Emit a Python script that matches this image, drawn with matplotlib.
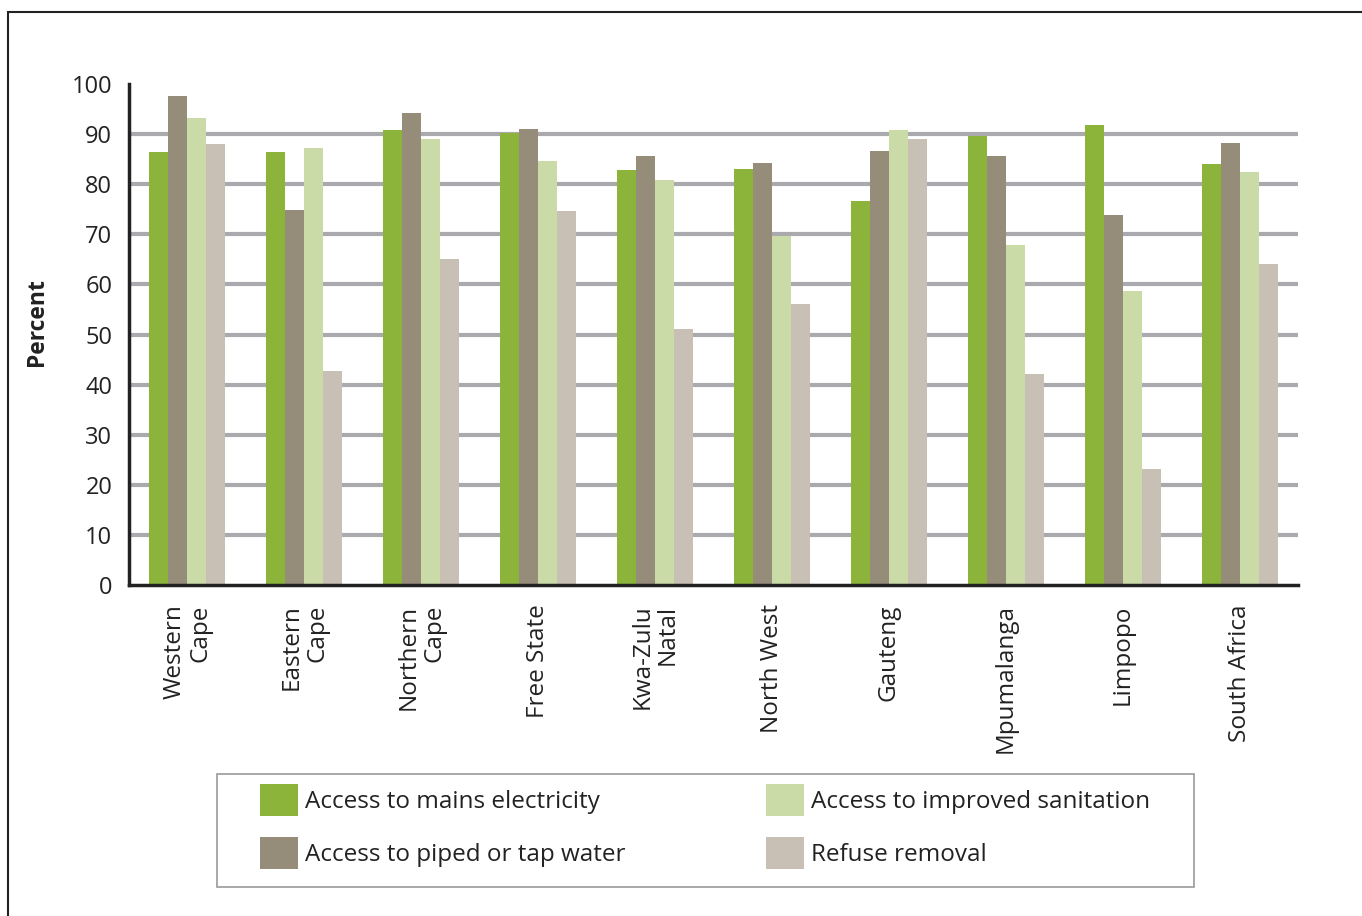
import matplotlib.pyplot as plt
import numpy as np
from matplotlib.patches import Rectangle

plt.rcParams['font.family'] = ['Open Sans', 'DejaVu Sans']

provinces = ['Western\nCape', 'Eastern\nCape', 'Northern\nCape', 'Free State', 'Kwa-Zulu\nNatal',
             'North West', 'Gauteng', 'Mpumalanga', 'Limpopo', 'South Africa']
electricity = [86.5, 86.5, 90.9, 90.3, 82.9, 83.1, 76.7, 89.7, 91.8, 84.1]
water = [97.6, 74.8, 94.2, 91.1, 85.7, 84.3, 86.7, 85.7, 73.8, 88.3]
sanitation = [93.2, 87.3, 89.1, 84.7, 80.9, 69.6, 90.9, 67.8, 58.6, 82.5]
refuse = [88.1, 42.7, 65.0, 74.6, 51.1, 56.1, 89.1, 42.1, 23.1, 64.0]

series = [('Access to mains electricity', electricity, '#8cb33a'),
          ('Access to piped or tap water', water, '#968c7a'),
          ('Access to improved sanitation', sanitation, '#cbdba8'),
          ('Refuse removal', refuse, '#c8c0b4')]

W, H = 1362, 916
fig = plt.figure(figsize=(W / 100, H / 100), dpi=100)
ax = fig.add_axes([129 / W, 1 - 585 / H, (1298 - 129) / W, (585 - 84) / H])

x = np.arange(len(provinces))
bw = 0.1625
handles = {}
for i, (name, vals, col) in enumerate(series):
    b = ax.bar(x + (i - 1.5) * bw, vals, width=bw, color=col, zorder=3, label=name)
    handles[name] = b

ax.set_xlim(-0.5, len(provinces) - 0.5)
ax.set_ylim(0, 100)
ax.set_yticks(range(0, 101, 10))
for v in range(10, 100, 10):
    ax.axhline(v, color='#aaaaae', lw=3, zorder=1)

for s in ['top', 'right']:
    ax.spines[s].set_visible(False)
for s in ['left', 'bottom']:
    ax.spines[s].set_color('#222222')
    ax.spines[s].set_linewidth(2.5)
    ax.spines[s].set_zorder(4)

ax.tick_params(axis='y', length=0, pad=12, labelsize=17, labelcolor='#222222')
ax.tick_params(axis='x', length=0, pad=14, labelsize=17.5, labelcolor='#222222')
ax.set_xticks(x)
ax.set_xticklabels(provinces, rotation=90, va='top', ha='center', multialignment='right',
                   linespacing=1.1)

fig.text(37 / W, 1 - 322 / H, 'Percent', rotation=90, ha='center', va='center',
         fontsize=16.5, fontweight='bold', color='#222222')

# legend box drawn separately, legend itself frameless
fig.patches.append(Rectangle((217 / W, 1 - 887 / H), (1194 - 217) / W, (887 - 774) / H,
                             transform=fig.transFigure, fill=False,
                             edgecolor='#999999', lw=1.2))
order = ['Access to mains electricity', 'Access to piped or tap water',
         'Access to improved sanitation', 'Refuse removal']
leg = fig.legend([handles[k] for k in order], order, ncol=2,
                 loc='upper left', bbox_to_anchor=(260 / W, 1 - 784 / H),
                 fontsize=17.5, frameon=False,
                 handlelength=1.55, handleheight=1.65, handletextpad=0.3,
                 labelspacing=0.85, borderpad=0, borderaxespad=0, columnspacing=5.8)
for t in leg.get_texts():
    t.set_color('#222222')

fig.patches.append(Rectangle((8 / W, -0.1), 1.2, 1 - 12 / H + 0.1, transform=fig.transFigure,
                             fill=False, edgecolor='#222222', lw=1.5))

fig.savefig('out.png', dpi=100)
